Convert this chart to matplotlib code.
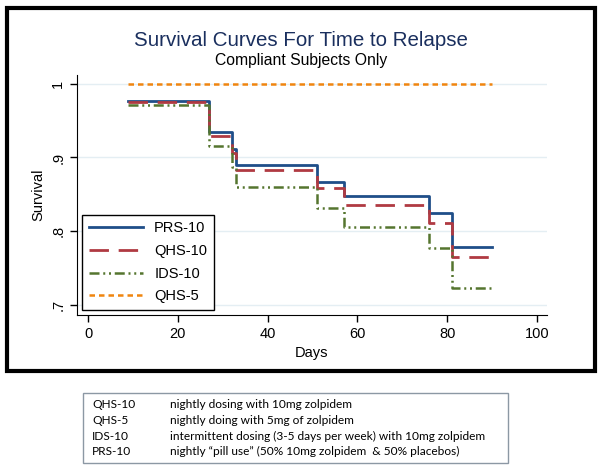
import matplotlib.pyplot as plt
from matplotlib.patches import Rectangle

# step times (days) and survival estimates
days = [9, 27, 32, 33, 51, 57, 76, 81, 90]
prs10 = [0.977, 0.935, 0.912, 0.890, 0.867, 0.847, 0.824, 0.779, 0.779]
qhs10 = [0.975, 0.929, 0.906, 0.883, 0.858, 0.835, 0.811, 0.765, 0.765]
ids10 = [0.971, 0.916, 0.887, 0.860, 0.832, 0.805, 0.777, 0.723, 0.723]
qhs5 = [1.0, 1.0, 1.0, 1.0, 1.0, 1.0, 1.0, 1.0, 1.0]

x_ticks = [0, 20, 40, 60, 80, 100]
y_ticks = [0.7, 0.8, 0.9, 1.0]
y_tick_labels = [".7", ".8", ".9", "1"]

notes = [
    ("QHS-10", "nightly dosing with 10mg zolpidem"),
    ("QHS-5", "nightly doing with 5mg of zolpidem"),
    ("IDS-10", "intermittent dosing (3-5 days per week) with 10mg zolpidem"),
    ("PRS-10", "nightly \u201cpill use\u201d (50% 10mg zolpidem  & 50% placebos)"),
]

plt.rcParams["font.family"] = ["Liberation Sans", "DejaVu Sans"]

W, H = 602, 475
fig = plt.figure(figsize=(W / 100, H / 100), dpi=100)

# thick black frame around the graph region
fig.add_artist(Rectangle((7 / W, 1 - 371 / H), (595 - 7) / W, (371 - 8) / H,
                         transform=fig.transFigure, fill=False,
                         edgecolor="black", linewidth=3))

ax = fig.add_axes([77 / W, 1 - 315 / H, (547 - 77) / W, (315 - 75) / H])

ax.step(days, prs10, where="post", color="#1f4e89", linewidth=2, label="PRS-10")
ax.step(days, qhs10, where="post", color="#b03a42", linewidth=2,
        dashes=(7, 3.5), label="QHS-10")
ax.step(days, ids10, where="post", color="#55752f", linewidth=1.8,
        dashes=(4, 1.5, 0.8, 1.5, 0.8, 1.5), label="IDS-10")
ax.step(days, qhs5, where="post", color="#f0850f", linewidth=1.8,
        dashes=(2.2, 1.6), label="QHS-5")

ax.set_xlim(-2.45, 102.2)
ax.set_ylim(0.686, 1.012)
for y in y_ticks:
    ax.axhline(y, color="#e4eef3", linewidth=1, zorder=0)

ax.set_xticks(x_ticks)
ax.set_yticks(y_ticks)
ax.set_yticklabels(y_tick_labels, rotation=90, va="center")
ax.tick_params(direction="out", length=5, width=1, labelsize=10.5)
for s in ["top", "right"]:
    ax.spines[s].set_visible(False)
ax.set_xlabel("Days", fontsize=10.5)
ax.set_ylabel("Survival", fontsize=10.5)

leg = ax.legend(loc="lower left", bbox_to_anchor=(5 / 470, 5 / 240),
                borderaxespad=0, fontsize=10.5, frameon=True, fancybox=False,
                framealpha=1, edgecolor="black", handlelength=3.7,
                handletextpad=0.8, labelspacing=0.6, borderpad=0.45)
leg.get_frame().set_linewidth(1)

fig.text(0.5, 1 - 40 / H, "Survival Curves For Time to Relapse",
         ha="center", va="center", fontsize=14.8, color="#1a2f5e")
fig.text(0.5, 1 - 60 / H, "Compliant Subjects Only",
         ha="center", va="center", fontsize=11.3)

# description box below the graph
fig.add_artist(Rectangle((83 / W, 1 - 463 / H), (508 - 83) / W, (463 - 393) / H,
                         transform=fig.transFigure, fill=False,
                         edgecolor="#8c98a4", linewidth=1))
for i, (code, desc) in enumerate(notes):
    yy = 1 - (405 + i * 15.5) / H
    fig.text(92 / W, yy, code, fontsize=8.6, va="center", family=["Lato", "DejaVu Sans"])
    fig.text(170 / W, yy, desc, fontsize=8.6, va="center", family=["Lato", "DejaVu Sans"])

fig.savefig("out.png", dpi=100)
